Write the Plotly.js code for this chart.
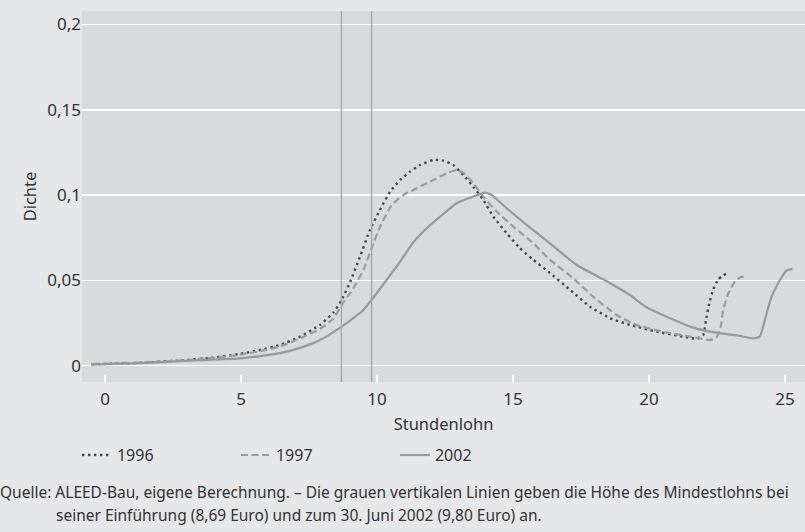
<!DOCTYPE html>
<html>
<head>
<meta charset="utf-8">
<script src="https://cdn.plot.ly/plotly-3.0.1.min.js"></script>
<style>
  html, body { margin: 0; padding: 0; background: #e6e7e9; }
  #chart { width: 805px; height: 532px; }
</style>
</head>
<body>
<div id="chart"></div>
<script>
// Series names
const seriesNames = ["1996", "1997", "2002"];

// 1996 (dotted)
const x1996 = [-0.5, 0.5, 1.5, 2.76, 3.98, 4.96, 5.7, 6.43, 7.17, 7.9, 8.39, 8.7, 9.01, 9.375, 9.74, 10.11, 10.48, 10.85, 11.21, 11.58, 12.07, 12.44, 12.8, 13.17, 13.54, 13.91, 14.28, 14.77, 15.26, 15.75, 16.3, 17.1, 17.83, 18.57, 19.3, 20.28, 21.26, 21.75, 22.0, 22.1, 22.22, 22.36, 22.55, 22.89];
const y1996 = [0.0008, 0.0012, 0.0018, 0.003, 0.0047, 0.0069, 0.0092, 0.0121, 0.017, 0.0239, 0.031, 0.0385, 0.049, 0.0639, 0.0795, 0.0913, 0.102, 0.1088, 0.1137, 0.1176, 0.1206, 0.1202, 0.1176, 0.1118, 0.1049, 0.0971, 0.0873, 0.0776, 0.0688, 0.062, 0.0551, 0.0444, 0.0346, 0.0278, 0.0239, 0.0199, 0.017, 0.0157, 0.018, 0.0268, 0.0366, 0.0444, 0.0506, 0.0545];

// 1997 (dashed)
const x1997 = [-0.5, 0.5, 1.5, 2.76, 3.98, 4.96, 5.7, 6.43, 7.17, 7.9, 8.39, 8.7, 9.13, 9.5, 9.8, 10.11, 10.54, 10.97, 11.46, 12.07, 12.56, 12.93, 13.17, 13.54, 13.91, 14.4, 15.01, 15.75, 16.36, 17.22, 17.95, 18.81, 19.54, 20.5, 21.51, 22.24, 22.49, 22.64, 22.73, 22.92, 23.16, 23.41, 23.57];
const y1997 = [0.0009, 0.0013, 0.0019, 0.003, 0.0045, 0.0064, 0.0085, 0.0112, 0.016, 0.0215, 0.0275, 0.0355, 0.0454, 0.0561, 0.0688, 0.0815, 0.0942, 0.1, 0.104, 0.1088, 0.1128, 0.1147, 0.1131, 0.107, 0.0991, 0.0903, 0.0815, 0.0717, 0.062, 0.0512, 0.0404, 0.0297, 0.0239, 0.0199, 0.017, 0.015, 0.0166, 0.0229, 0.0326, 0.0424, 0.0492, 0.0522, 0.0512];

// 2002 (solid)
const x2002 = [-0.5, 0.5, 1.5, 2.76, 3.98, 4.96, 5.7, 6.43, 7.17, 7.9, 8.7, 9.44, 9.8, 10.35, 10.85, 11.33, 11.83, 12.32, 12.93, 13.54, 13.97, 14.22, 14.77, 15.5, 16.36, 17.34, 18.32, 19.3, 19.91, 20.65, 21.63, 22.49, 23.35, 23.83, 24.08, 24.2, 24.33, 24.51, 24.82, 25.06, 25.28];
const y2002 = [0.0006, 0.001, 0.0016, 0.0026, 0.0035, 0.0043, 0.0056, 0.0073, 0.0104, 0.015, 0.0229, 0.0317, 0.0385, 0.0502, 0.061, 0.0722, 0.0805, 0.0873, 0.0952, 0.0991, 0.1014, 0.1, 0.0922, 0.0825, 0.0717, 0.059, 0.0506, 0.0414, 0.0342, 0.0287, 0.0223, 0.0193, 0.0174, 0.016, 0.017, 0.0229, 0.0307, 0.0404, 0.0502, 0.0557, 0.0567];

// Minimum wage reference lines (Euro)
const minWages = [8.69, 9.80];

// Axis ticks
const xTickVals = [0, 5, 10, 15, 20, 25];
const xTickText = ["0", "5", "10", "15", "20", "25"];
const yTickVals = [0, 0.05, 0.1, 0.15, 0.2];
const yTickText = ["0", "0,05", "0,1", "0,15", "0,2"];

const FONT = "'Noto Sans', 'Open Sans', sans-serif";
const TXT = "#333333";

const traces = [
  { x: x1996, y: y1996, name: seriesNames[0], mode: "lines", type: "scatter",
    line: { color: "#474747", width: 2.4, dash: "2.4px,3.6px", shape: "spline", smoothing: 0.4 } },
  { x: x1997, y: y1997, name: seriesNames[1], mode: "lines", type: "scatter",
    line: { color: "#9b9b9b", width: 2.2, dash: "7px,3.6px", shape: "spline", smoothing: 0.4 } },
  { x: x2002, y: y2002, name: seriesNames[2], mode: "lines", type: "scatter",
    line: { color: "#999999", width: 2.2, shape: "spline", smoothing: 0.4 } }
];

const shapes = minWages.map(v => ({
  type: "line", xref: "x", yref: "paper", x0: v, x1: v, y0: 0, y1: 1,
  line: { color: "#a9a9a9", width: 1.5 }, layer: "above"
}));

const layout = {
  width: 805, height: 532,
  margin: { l: 82, r: 0, t: 11, b: 150 },
  paper_bgcolor: "#e6e7e9",
  plot_bgcolor: "#d9dadc",
  font: { family: FONT, color: TXT, size: 15 },
  showlegend: true,
  xaxis: {
    range: [-0.85, 25.74],
    tickvals: xTickVals, ticktext: xTickText,
    ticks: "inside", ticklen: 7, tickwidth: 2, tickcolor: "#ffffff",
    ticklabelstandoff: 5,
    showgrid: false, zeroline: false, showline: false,
    tickfont: { size: 17, color: TXT },
    title: { text: "Stundenlohn", font: { size: 16.5, color: TXT }, standoff: 9 }
  },
  yaxis: {
    range: [-0.0096, 0.2079],
    tickvals: yTickVals, ticktext: yTickText,
    showgrid: true, gridcolor: "#ffffff", gridwidth: 1.5,
    zeroline: false, showline: false, ticks: "",
    tickfont: { size: 17, color: TXT },
    title: { text: "Dichte", font: { size: 16.5, color: TXT }, standoff: 6 }
  },
  legend: {
    orientation: "h", x: -0.007, xanchor: "left", y: -0.197, yanchor: "middle",
    entrywidth: 114, entrywidthmode: "pixels",
    font: { size: 16, color: TXT }, bgcolor: "rgba(0,0,0,0)",
    traceorder: "normal"
  },
  shapes: shapes,
  annotations: [
    { xref: "paper", yref: "paper", x: -0.116, y: -0.296, xanchor: "left", yanchor: "middle",
      text: "Quelle: ALEED-Bau, eigene Berechnung. – Die grauen vertikalen Linien geben die Höhe des Mindestlohns bei",
      showarrow: false, font: { size: 15.5, color: TXT } },
    { xref: "paper", yref: "paper", x: -0.039, y: -0.358, xanchor: "left", yanchor: "middle",
      text: "seiner Einführung (8,69 Euro) und zum 30. Juni 2002 (9,80 Euro) an.",
      showarrow: false, font: { size: 15.5, color: TXT } }
  ]
};

Plotly.newPlot("chart", traces, layout, { displayModeBar: false, staticPlot: true });
</script>
</body>
</html>
